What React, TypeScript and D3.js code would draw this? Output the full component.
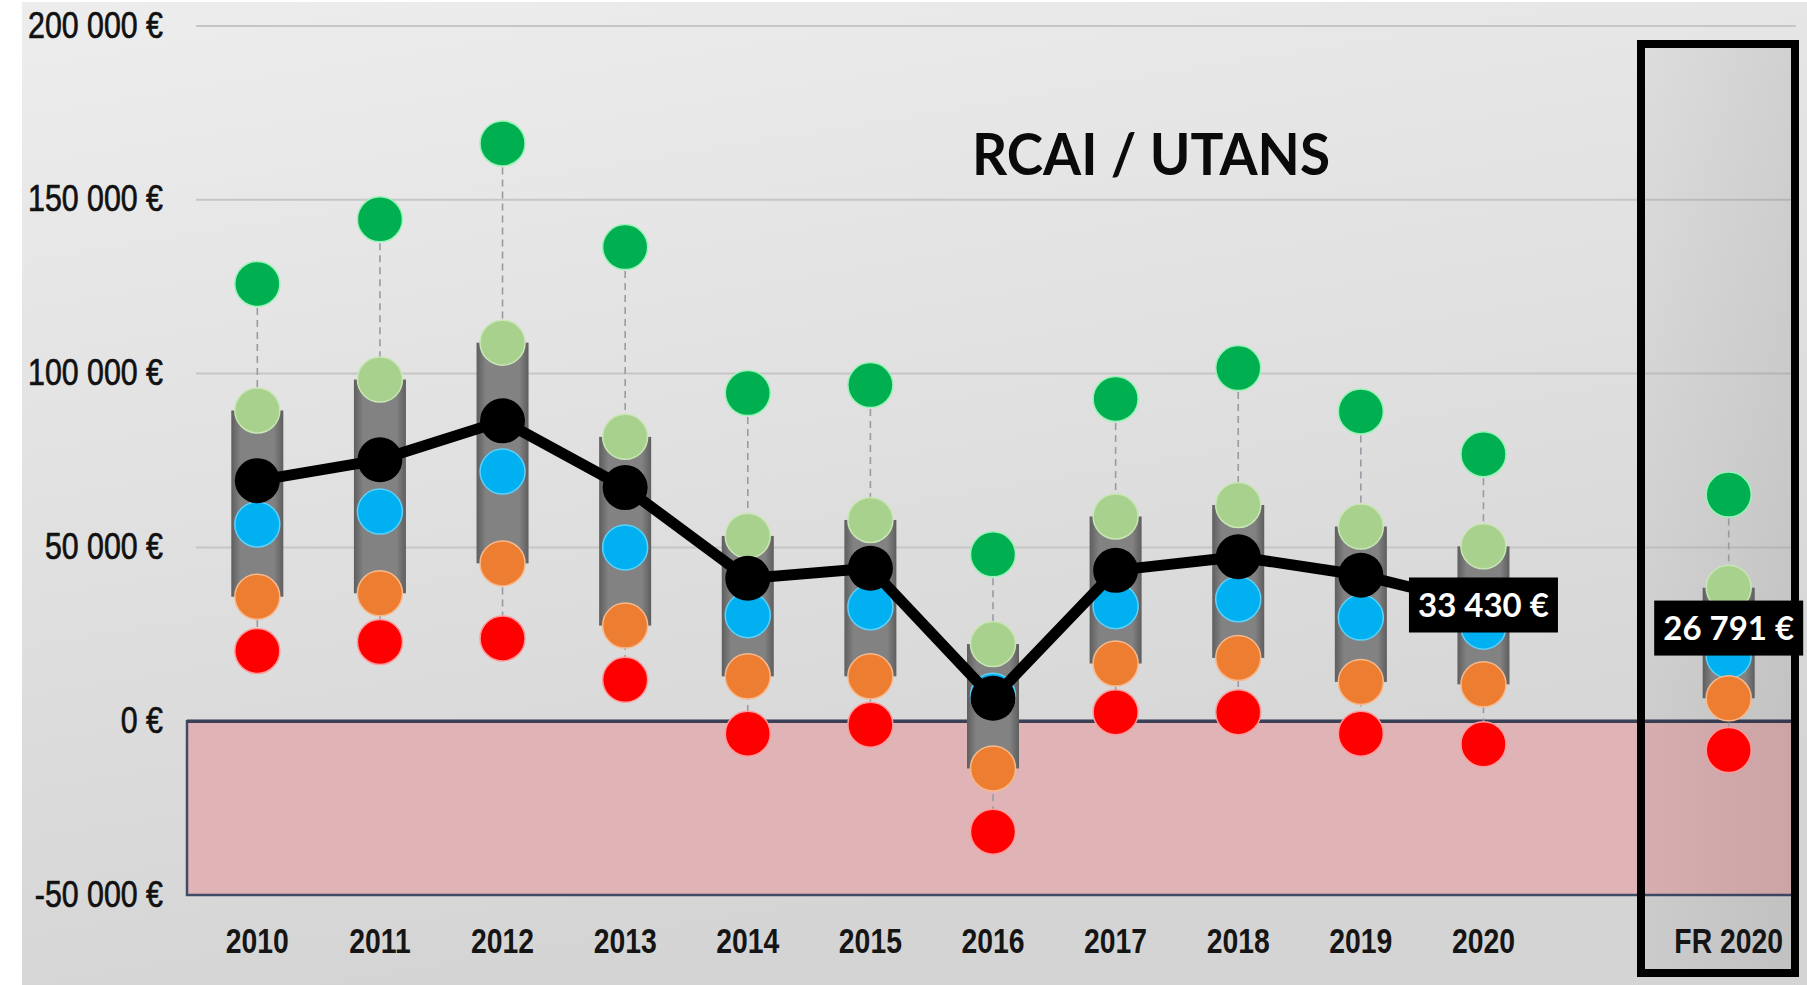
import { useRef, useEffect } from 'react';
import * as d3 from 'd3';

// catégories et valeurs
const years = ['2010', '2011', '2012', '2013', '2014', '2015', '2016', '2017', '2018', '2019', '2020'];
const frLabel = 'FR 2020';
const categories = [...years, frLabel];

const maxVals = [125800, 144400, 166200, 136400, 94400, 96700, 48000, 92700, 101600, 89100, 76800, 65200];
const q3Vals = [89400, 98300, 108900, 81800, 53300, 57900, 22200, 58900, 62200, 56000, 50300, 38400];
const medVals = [56600, 60300, 71800, 50000, 30500, 32800, 7300, 33100, 35100, 29800, 27200, 18900];
const q1Vals = [35800, 36800, 45400, 27500, 12900, 12900, -13600, 16600, 18200, 11300, 10600, 6600];
const minVals = [20200, 22800, 23800, 11900, -3600, -1000, -31800, 2600, 2600, -3600, -6600, -8300];
const meanVals = [69200, 75200, 86400, 67200, 41100, 44000, 6600, 43400, 47300, 42000, 33430, 26791];

const yTicks = [200000, 150000, 100000, 50000, 0, -50000];
const labelled = ['2020', frLabel];

const W = 1807;
const H = 985;

const fr = d3.formatLocale({ decimal: ',', thousands: ' ', grouping: [3], currency: ['', ' €'], minus: '-' });
const euro = fr.format('$,');

const App = () => {
  const svgRef = useRef<SVGSVGElement>(null);

  useEffect(() => {
    const svg = d3.select(svgRef.current);
    svg.selectAll('*').remove();

    const x = d3.scaleBand<string>().domain([...years, 'gap', frLabel]).range([196, 1790]);
    const cx = (c: string) => (x(c) as number) + x.bandwidth() / 2;
    const y = d3.scaleLinear().domain([-50000, 200000]).range([895, 26]);

    const defs = svg.append('defs');
    const bg = defs.append('linearGradient').attr('id', 'bg').attr('x1', 0).attr('y1', 0).attr('x2', 0.3).attr('y2', 1);
    bg.append('stop').attr('offset', '0%').attr('stop-color', '#ededed');
    bg.append('stop').attr('offset', '100%').attr('stop-color', '#d4d4d4');

    const frg = defs.append('linearGradient').attr('id', 'frg').attr('x1', 0).attr('y1', 0).attr('x2', 1).attr('y2', 0);
    frg.append('stop').attr('offset', '0%').attr('stop-color', 'rgba(0,0,0,0.04)');
    frg.append('stop').attr('offset', '100%').attr('stop-color', 'rgba(0,0,0,0.09)');

    const barg = defs.append('linearGradient').attr('id', 'barg').attr('x1', 0).attr('y1', 0).attr('x2', 1).attr('y2', 0);
    barg.append('stop').attr('offset', '0%').attr('stop-color', '#5e5e5e');
    barg.append('stop').attr('offset', '18%').attr('stop-color', '#828282');
    barg.append('stop').attr('offset', '82%').attr('stop-color', '#828282');
    barg.append('stop').attr('offset', '100%').attr('stop-color', '#5e5e5e');

    // fond
    svg.append('rect').attr('width', W).attr('height', H).attr('fill', '#ffffff');
    svg.append('rect').attr('x', 22).attr('y', 2).attr('width', W - 22).attr('height', H - 2).attr('fill', 'url(#bg)');

    // zone négative
    svg.append('rect')
      .attr('x', 187).attr('y', y(0))
      .attr('width', 1796 - 187).attr('height', y(-50000) - y(0))
      .attr('fill', '#e0b4b6')
      .attr('stroke', '#404b68').attr('stroke-width', 2.5);

    // grille
    svg.append('g').selectAll('line')
      .data(yTicks.filter((t) => t > 0))
      .join('line')
      .attr('x1', 196).attr('x2', 1796)
      .attr('y1', (d) => y(d)).attr('y2', (d) => y(d))
      .attr('stroke', '#c6c6c6').attr('stroke-width', 2);

    svg.append('line')
      .attr('x1', 187).attr('x2', 1796)
      .attr('y1', y(0)).attr('y2', y(0))
      .attr('stroke', '#3a4156').attr('stroke-width', 3.5);

    // fond de la boite FR
    svg.append('rect').attr('x', 1641).attr('y', 44).attr('width', 154).attr('height', 929).attr('fill', 'url(#frg)');

    // axe Y (police étroite simulée)
    const gY = svg.append('g')
      .attr('transform', 'translate(163,0)')
      .call(d3.axisLeft(y).tickValues(yTicks).tickFormat((d) => euro(d as number)).tickSize(0).tickPadding(0));
    gY.select('.domain').remove();
    gY.selectAll('text')
      .attr('fill', '#111')
      .attr('stroke', '#111')
      .attr('stroke-width', 0.7)
      .attr('dy', '0.3em')
      .attr('transform', 'scale(0.82,1)')
      .style('font-family', '"Liberation Sans", Arial, sans-serif')
      .style('font-size', '37px');

    // axe X
    const gX = svg.append('g')
      .attr('transform', 'translate(0,953)')
      .call(d3.axisBottom(x).tickValues(categories).tickSize(0));
    gX.select('.domain').remove();
    gX.selectAll('text')
      .attr('y', 0).attr('dy', 0)
      .attr('transform', 'scale(0.81,1)')
      .attr('fill', '#151515')
      .style('font-family', '"Liberation Sans", Arial, sans-serif')
      .style('font-weight', 'bold')
      .style('font-size', '35px');

    const rows = categories.map((c, i) => ({
      c,
      max: maxVals[i], q3: q3Vals[i], med: medVals[i], q1: q1Vals[i], min: minVals[i], mean: meanVals[i],
    }));

    // pointillés min - max
    svg.append('g').selectAll('line')
      .data(rows)
      .join('line')
      .attr('x1', (d) => cx(d.c)).attr('x2', (d) => cx(d.c))
      .attr('y1', (d) => y(d.max)).attr('y2', (d) => y(d.min))
      .attr('stroke', '#9a9aa4').attr('stroke-width', 1.6).attr('stroke-dasharray', '7 5');

    // barres q1 - q3
    svg.append('g').selectAll('rect')
      .data(rows)
      .join('rect')
      .attr('x', (d) => cx(d.c) - 26)
      .attr('width', 52)
      .attr('y', (d) => y(d.q3))
      .attr('height', (d) => y(d.q1) - y(d.q3))
      .attr('fill', 'url(#barg)');

    const r = 22.5;
    const series: { key: 'max' | 'q3' | 'med' | 'q1' | 'min'; fill: string; rim: string }[] = [
      { key: 'max', fill: '#00b050', rim: '#9af2b8' },
      { key: 'q3', fill: '#a9d18e', rim: '#c9e6b5' },
      { key: 'med', fill: '#00b0f0', rim: '#5fd0f8' },
      { key: 'q1', fill: '#ed7d31', rim: '#f7b98c' },
      { key: 'min', fill: '#ff0000', rim: '#ff9a9a' },
    ];
    series.forEach((s) => {
      svg.append('g').selectAll('circle')
        .data(rows)
        .join('circle')
        .attr('cx', (d) => cx(d.c))
        .attr('cy', (d) => y(d[s.key]))
        .attr('r', r)
        .attr('fill', s.fill)
        .attr('stroke', s.rim).attr('stroke-width', 1.5);
    });

    // moyenne
    const line = d3.line<(typeof rows)[number]>().x((d) => cx(d.c)).y((d) => y(d.mean));
    svg.append('path')
      .datum(rows.filter((d) => d.c !== frLabel))
      .attr('d', line)
      .attr('fill', 'none')
      .attr('stroke', '#000')
      .attr('stroke-width', 11)
      .attr('stroke-linejoin', 'round');

    svg.append('g').selectAll('circle')
      .data(rows)
      .join('circle')
      .attr('cx', (d) => cx(d.c))
      .attr('cy', (d) => y(d.mean))
      .attr('r', r)
      .attr('fill', '#000');

    // boite FR 2020
    svg.append('rect').attr('x', 1641).attr('y', 44).attr('width', 154).attr('height', 929)
      .attr('fill', 'none').attr('stroke', '#000').attr('stroke-width', 8);

    // étiquettes
    const lab = svg.append('g').selectAll('g')
      .data(rows.filter((d) => labelled.includes(d.c)))
      .join('g')
      .attr('transform', (d) => `translate(${cx(d.c)},${y(d.mean)})`);
    lab.append('rect').attr('x', -74.5).attr('y', -27.5).attr('width', 149).attr('height', 55).attr('fill', '#000');
    lab.append('text')
      .attr('text-anchor', 'middle')
      .attr('dy', '0.36em')
      .attr('fill', '#fff')
      .style('font-family', 'Lato, "Open Sans", sans-serif')
      .style('font-weight', 'bold')
      .style('font-size', '33px')
      .text((d) => euro(d.mean));

    // titre
    svg.append('text')
      .attr('x', 1151).attr('y', 175)
      .attr('text-anchor', 'middle')
      .attr('textLength', 358)
      .attr('lengthAdjust', 'spacingAndGlyphs')
      .attr('fill', '#0a0a0a')
      .style('font-family', 'Lato, "Open Sans", sans-serif')
      .style('font-weight', 'bold')
      .style('font-size', '58px')
      .text('RCAI / UTANS');
  }, []);

  return (
    <div style={{ position: 'absolute', left: 0, top: 0 }}>
      <svg ref={svgRef} width={W} height={H} style={{ display: 'block' }}></svg>
    </div>
  );
};

export default App;
